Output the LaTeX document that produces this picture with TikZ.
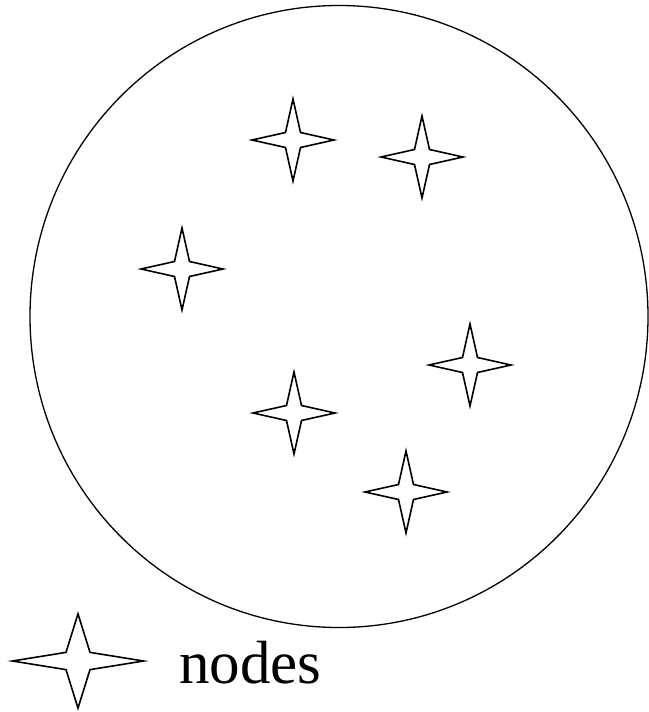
\documentclass[tikz,border=0pt]{standalone}
\usepackage{fontspec}
\setmainfont{Liberation Serif}
\usetikzlibrary{calc}
\tikzset{sparkline/.style={black,line width=1.6pt},
	rim/.style={black,line width=1.3pt}}
% four-pointed star: centre, xscale, yscale
\newcommand{\sparkle}[3]{\draw[sparkline,shift={(#1)},xscale=#2,yscale=#3]
	(-41,0) -- (-7.5,-7.5) -- (0,-41) -- (7.5,-7.5) -- (41,0) -- (7.5,7.5) -- (0,41) -- (-7.5,7.5) -- cycle;}

\begin{document}
\begin{tikzpicture}[x=1pt,y=-1pt]
	%	\draw[help lines] (0,0) grid (648,712);
	\useasboundingbox (0,0) rectangle (648,712);

	\draw[rim] (339,316.5) ellipse (309 and 311);

	\sparkle{293,140}{1}{1}
	\sparkle{422,157}{1}{1}
	\sparkle{182,269}{1}{1}
	\sparkle{470,365}{1}{1}
	\sparkle{294,413}{1}{1}
	\sparkle{406,492}{1}{1}

	% legend
	\sparkle{78,661}{1.6}{1.15}
	\node[anchor=base west,inner sep=0pt,font=\fontsize{61}{70}\selectfont] (legendtext) at (179,683) {nodes};
\end{tikzpicture}
\end{document}
